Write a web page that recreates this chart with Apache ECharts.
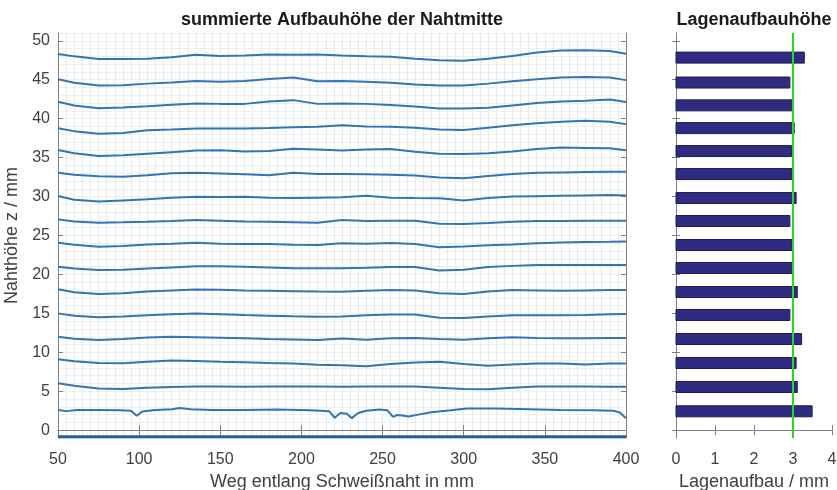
<!DOCTYPE html>
<html><head><meta charset="utf-8">
<script src="https://cdn.jsdelivr.net/npm/echarts@6/dist/echarts.min.js"></script>
<style>html,body{margin:0;padding:0;background:#fff}#c{width:837px;height:490px}</style>
</head><body><div id="c"></div>
<script>
// ---------- data ----------
const xTicks = [50, 100, 150, 200, 250, 300, 350, 400];
const zTicks = [0, 5, 10, 15, 20, 25, 30, 35, 40, 45, 50];
const barTicks = [0, 1, 2, 3, 4];

const xs = [50, 60, 75, 90, 105, 120, 135, 150, 165, 180, 195, 210, 225, 240, 255, 270, 285, 300, 315, 330, 345, 360, 375, 390, 400];

const layer16 = [48.3, 48.0, 47.65, 47.65, 47.7, 47.9, 48.2, 48.05, 48.1, 48.25, 48.2, 48.25, 48.1, 48.0, 47.95, 47.7, 47.5, 47.43, 47.7, 48.05, 48.5, 48.75, 48.8, 48.7, 48.35];
const layer15 = [45.05, 44.6, 44.25, 44.3, 44.5, 44.65, 44.85, 44.75, 44.85, 45.1, 45.3, 44.8, 44.85, 44.75, 44.6, 44.4, 44.25, 44.25, 44.5, 44.8, 45.05, 45.3, 45.35, 45.3, 44.95];
const layer14 = [42.17, 41.7, 41.35, 41.45, 41.6, 41.8, 41.95, 41.9, 41.9, 42.2, 42.38, 41.9, 41.95, 41.9, 41.75, 41.55, 41.3, 41.3, 41.4, 41.7, 42.0, 42.2, 42.3, 42.45, 42.15];
const layer13 = [38.76, 38.4, 38.05, 38.15, 38.5, 38.6, 38.75, 38.75, 38.75, 38.8, 38.9, 38.95, 39.15, 39.0, 38.95, 38.85, 38.6, 38.55, 38.85, 39.15, 39.4, 39.6, 39.73, 39.6, 39.3];
const layer12 = [35.97, 35.55, 35.2, 35.3, 35.5, 35.7, 35.9, 35.95, 35.8, 35.85, 36.15, 36.05, 35.9, 36.05, 36.1, 35.75, 35.5, 35.45, 35.55, 35.8, 36.1, 36.3, 36.25, 36.2, 35.95];
const layer11 = [33.06, 32.8, 32.6, 32.55, 32.75, 33.0, 33.05, 32.95, 32.85, 32.75, 33.05, 32.9, 32.9, 32.85, 32.8, 32.7, 32.45, 32.35, 32.65, 32.9, 33.05, 33.1, 33.15, 33.2, 33.2];
const layer10 = [30.07, 29.6, 29.35, 29.5, 29.65, 29.85, 29.98, 29.95, 29.98, 29.85, 29.8, 29.85, 29.9, 30.1, 29.85, 29.8, 29.78, 29.5, 29.8, 30.0, 30.05, 30.1, 30.15, 30.2, 30.15];
const layer9 = [27.07, 26.8, 26.65, 26.7, 26.77, 26.85, 26.98, 26.9, 26.8, 26.75, 26.7, 26.65, 27.0, 26.85, 26.9, 26.88, 26.5, 26.47, 26.6, 26.78, 26.85, 26.85, 26.9, 26.9, 26.9];
const layer8 = [24.07, 23.8, 23.56, 23.65, 23.85, 23.95, 24.07, 23.95, 23.9, 23.9, 23.8, 23.78, 24.0, 23.95, 24.05, 23.9, 23.5, 23.6, 23.75, 23.85, 24.0, 24.1, 24.15, 24.2, 24.24];
const layer7 = [20.99, 20.75, 20.57, 20.6, 20.75, 20.9, 21.05, 21.05, 21.0, 20.9, 20.8, 20.78, 20.78, 20.85, 20.95, 20.95, 20.5, 20.6, 20.95, 21.1, 21.2, 21.2, 21.2, 21.2, 21.2];
const layer6 = [18.09, 17.7, 17.5, 17.6, 17.8, 17.95, 18.08, 18.05, 17.95, 17.9, 17.85, 17.8, 17.78, 17.9, 18.0, 17.95, 17.6, 17.5, 17.8, 18.0, 17.95, 17.9, 17.95, 18.0, 18.0];
const layer5 = [15.0, 14.7, 14.5, 14.6, 14.75, 14.9, 15.0, 14.9, 14.78, 14.7, 14.62, 14.57, 14.6, 14.75, 14.85, 14.85, 14.45, 14.4, 14.6, 14.75, 14.75, 14.75, 14.8, 14.9, 14.92];
const layer4 = [12.0, 11.75, 11.58, 11.7, 11.9, 12.0, 11.95, 11.88, 11.8, 11.72, 11.65, 11.58, 11.78, 11.6, 11.8, 11.85, 11.7, 11.6, 11.8, 11.92, 11.85, 11.8, 11.82, 11.85, 11.85];
const layer3 = [9.1, 8.85, 8.62, 8.6, 8.8, 8.95, 8.9, 8.8, 8.72, 8.62, 8.55, 8.4, 8.35, 8.2, 8.5, 8.7, 8.79, 8.5, 8.28, 8.45, 8.58, 8.55, 8.45, 8.55, 8.58];
const layer2 = [6.02, 5.7, 5.35, 5.3, 5.45, 5.55, 5.6, 5.6, 5.58, 5.6, 5.62, 5.6, 5.58, 5.6, 5.62, 5.6, 5.45, 5.3, 5.25, 5.45, 5.6, 5.62, 5.6, 5.58, 5.58];

const layer1X = [50, 55, 62, 75, 88, 95, 98.5, 102, 110, 120, 125, 132, 145, 165, 185, 205, 212, 217, 220.5, 224, 228, 231, 235, 240, 248, 253, 256.5, 259, 262, 266, 272, 280, 292, 302, 320, 340, 360, 380, 392, 396, 400];
const layer1Z = [2.6, 2.45, 2.6, 2.6, 2.55, 2.5, 1.85, 2.4, 2.6, 2.7, 2.85, 2.7, 2.6, 2.6, 2.65, 2.55, 2.5, 2.45, 1.6, 2.2, 2.1, 1.55, 2.2, 2.5, 2.65, 2.55, 1.7, 1.95, 1.9, 1.75, 2.0, 2.3, 2.55, 2.8, 2.8, 2.7, 2.6, 2.55, 2.5, 2.3, 1.55];

const baseX = [50, 400];
const baseZ = [-0.85, -0.85];

// layer build-up (bottom to top): position = mean seam height, value = layer height
const layerPos = [2.43, 5.55, 8.63, 11.71, 14.79, 17.74, 20.83, 23.78, 26.86, 29.81, 32.89, 35.84, 38.79, 41.71, 44.64, 47.84];
const layerHeight = [3.49, 3.11, 3.08, 3.22, 2.92, 3.11, 3.01, 2.98, 2.92, 3.08, 2.98, 2.96, 3.03, 3.01, 2.92, 3.29];
const targetHeight = 3;

// ---------- chart ----------
const FONT = '"Liberation Sans", Arial, Helvetica, sans-serif';
const AX = '#808080';
const TXT = '#404040';
const LINE = '#2f76b6';

const profiles = [layer2, layer3, layer4, layer5, layer6, layer7, layer8, layer9, layer10, layer11, layer12, layer13, layer14, layer15, layer16];

const chart = echarts.init(document.getElementById('c'), null, {renderer: 'canvas'});

const frameAxis = (extra) => Object.assign({
  type: 'value',
  axisLine: {show: true, lineStyle: {color: AX, width: 1}},
  axisTick: {show: true, inside: true, length: 5, lineStyle: {color: AX}},
  axisLabel: {show: false},
  splitLine: {show: false}
}, extra);

const series = [];
profiles.forEach((arr, i) => {
  series.push({
    type: 'line', xAxisIndex: 0, yAxisIndex: 0, showSymbol: false, symbol: 'none',
    data: xs.map((x, j) => [x, arr[j]]),
    lineStyle: {color: LINE, width: 2}, silent: true, z: 3
  });
});
series.push({
  type: 'line', xAxisIndex: 0, yAxisIndex: 0, symbol: 'none',
  data: layer1X.map((x, j) => [x, layer1Z[j]]),
  lineStyle: {color: LINE, width: 2}, silent: true, z: 3
});
series.push({
  type: 'line', xAxisIndex: 0, yAxisIndex: 0, symbol: 'none',
  data: baseX.map((x, j) => [x, baseZ[j]]),
  lineStyle: {color: '#2a5e92', width: 3}, silent: true, z: 4
});
series.push({
  type: 'custom', xAxisIndex: 3, yAxisIndex: 3,
  data: layerPos.map((p, i) => [layerHeight[i], p]),
  encode: {x: 0, y: 1},
  renderItem: function (params, api) {
    const p0 = api.coord([0, api.value(1)]);
    const p1 = api.coord([api.value(0), api.value(1)]);
    const h = 11;
    return {
      type: 'rect',
      shape: {x: p0[0], y: p0[1] - h / 2, width: p1[0] - p0[0], height: h},
      style: {fill: '#2e2b80', stroke: '#1e1b5a', lineWidth: 1}
    };
  },
  markLine: {
    silent: true, symbol: ['none', 'none'], label: {show: false},
    lineStyle: {color: '#27d827', width: 2, type: 'solid'},
    data: [{xAxis: targetHeight}]
  },
  z: 3
});

const option = {
  backgroundColor: '#ffffff',
  animation: false,
  textStyle: {fontFamily: FONT},
  title: [
    {text: 'summierte Aufbauhöhe der Nahtmitte', left: 342, top: 11, textAlign: 'center', padding: 0,
     textStyle: {fontFamily: FONT, fontSize: 18, fontWeight: 'bold', color: '#1a1a1a'}},
    {text: 'Lagenaufbauhöhe', left: 754, top: 11, textAlign: 'center', padding: 0,
     textStyle: {fontFamily: FONT, fontSize: 18, fontWeight: 'bold', color: '#1a1a1a'}}
  ],
  grid: [
    {left: 58, top: 33, width: 568, height: 405, containLabel: false, outerBoundsMode: 'none'},
    {left: 676, top: 33, width: 156, height: 405, containLabel: false, outerBoundsMode: 'none'}
  ],
  xAxis: [
    frameAxis({gridIndex: 0, position: 'bottom', min: 50, max: 400, interval: 50,
      axisLabel: {show: true, color: TXT, fontSize: 16, margin: 14, fontFamily: FONT},
      name: 'Weg entlang Schweißnaht in mm', nameLocation: 'middle', nameGap: 35,
      nameTextStyle: {color: TXT, fontSize: 18, fontFamily: FONT}}),
    frameAxis({gridIndex: 0, position: 'top', min: 50, max: 400, interval: 50}),
    {type: 'value', gridIndex: 0, position: 'bottom', min: 50, max: 400, interval: 5,
      axisLine: {show: false}, axisTick: {show: false}, axisLabel: {show: false},
      splitLine: {show: true, lineStyle: {color: '#e5ebf1', width: 1}}},
    frameAxis({gridIndex: 1, position: 'bottom', min: 0, max: 4, interval: 1,
      axisLabel: {show: true, color: TXT, fontSize: 16, margin: 14, fontFamily: FONT},
      name: 'Lagenaufbau / mm', nameLocation: 'middle', nameGap: 35,
      nameTextStyle: {color: TXT, fontSize: 18, fontFamily: FONT}}),
    frameAxis({gridIndex: 1, position: 'top', min: 0, max: 4, interval: 1})
  ],
  yAxis: [
    frameAxis({gridIndex: 0, position: 'left', min: -1, max: 51,
      axisLabel: {show: true, color: TXT, fontSize: 16, margin: 8, fontFamily: FONT, customValues: zTicks},
      axisTick: {show: true, inside: true, length: 5, lineStyle: {color: AX}, customValues: zTicks},
      name: 'Nahthöhe z / mm', nameLocation: 'middle', nameGap: 30,
      nameTextStyle: {color: TXT, fontSize: 18, fontFamily: FONT}}),
    frameAxis({gridIndex: 0, position: 'right', min: -1, max: 51,
      axisTick: {show: true, inside: true, length: 5, lineStyle: {color: AX}, customValues: zTicks}}),
    {type: 'value', gridIndex: 0, position: 'left', min: -1, max: 51, interval: 1,
      axisLine: {show: false}, axisTick: {show: false}, axisLabel: {show: false},
      splitLine: {show: true, lineStyle: {color: '#edf1f5', width: 1}}},
    frameAxis({gridIndex: 1, position: 'left', min: -1, max: 51,
      axisTick: {show: true, inside: true, length: 4, lineStyle: {color: AX}, customValues: zTicks}}),
    frameAxis({gridIndex: 1, position: 'right', min: -1, max: 51,
      axisTick: {show: true, inside: true, length: 4, lineStyle: {color: AX}, customValues: zTicks}})
  ],
  series: series
};
chart.setOption(option);
</script>
</body></html>
